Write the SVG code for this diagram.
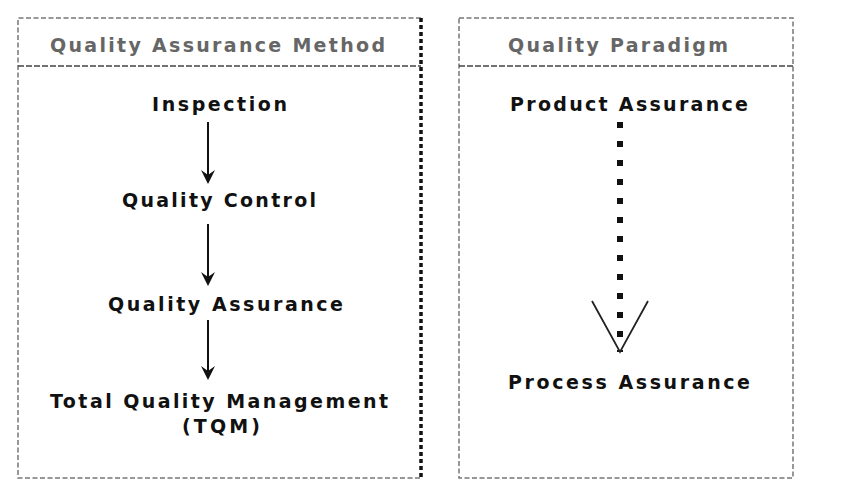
<svg xmlns="http://www.w3.org/2000/svg" width="852" height="498" viewBox="0 0 852 498">
<style>
.thin{fill:none;stroke:#777;stroke-width:1.5;stroke-dasharray:5 2.5}
.div{fill:none;stroke:#444;stroke-width:1.5;stroke-dasharray:6 2}
.thick{fill:none;stroke:#111;stroke-width:3.5;stroke-dasharray:4 3}
.hdr{font-family:"DejaVu Sans",Verdana,sans-serif;font-weight:bold;font-size:19px;fill:#666}
.lbl{font-family:"DejaVu Sans",Verdana,sans-serif;font-weight:bold;font-size:19px;fill:#111}
.arr{stroke:#111;stroke-width:2;fill:none}
.vdot{stroke:#111;stroke-width:6;stroke-dasharray:6 13;fill:none}
.v{stroke:#222;stroke-width:1.8;fill:none}
</style>
<rect width="852" height="498" fill="#fff"/>
<g id="left-box">
<path class="thin" d="M421,18 H18 V478 H421"/>
<path class="thick" d="M421,18 V478"/>
<path class="div" d="M18,66 H421"/>
<text class="hdr" x="50" y="52" textLength="335" lengthAdjust="spacing">Quality Assurance Method</text>
</g>
<g id="right-box">
<rect class="thin" x="459" y="18" width="334" height="460"/>
<path class="div" d="M459,66 H793"/>
<text class="hdr" x="508" y="52" textLength="220" lengthAdjust="spacing">Quality Paradigm</text>
</g>
<g id="inspection"><text class="lbl" x="152" y="111" textLength="135" lengthAdjust="spacing">Inspection</text></g>
<g id="quality-control"><text class="lbl" x="122" y="207" textLength="194" lengthAdjust="spacing">Quality Control</text></g>
<g id="quality-assurance"><text class="lbl" x="108" y="311" textLength="235" lengthAdjust="spacing">Quality Assurance</text></g>
<g id="tqm">
<text class="lbl" x="50" y="408" textLength="338" lengthAdjust="spacing">Total Quality Management</text>
<text class="lbl" x="182" y="433" textLength="78" lengthAdjust="spacing">(TQM)</text>
</g>
<g id="product-assurance"><text class="lbl" x="510" y="111" textLength="238" lengthAdjust="spacing">Product Assurance</text></g>
<g id="process-assurance"><text class="lbl" x="508" y="389" textLength="242" lengthAdjust="spacing">Process Assurance</text></g>
<g id="connectors">
<path class="arr" d="M208,122 V176"/>
<path d="M201,170 L208,184 L215,170 L208,175 Z" fill="#111"/>
<path class="arr" d="M208,224 V278"/>
<path d="M201,272 L208,286 L215,272 L208,277 Z" fill="#111"/>
<path class="arr" d="M208,320 V372"/>
<path d="M201,366 L208,380 L215,366 L208,371 Z" fill="#111"/>
<path class="vdot" d="M620,122 V352"/>
<path class="v" d="M592,301 L620,352 L648,301"/>
</g>
</svg>
